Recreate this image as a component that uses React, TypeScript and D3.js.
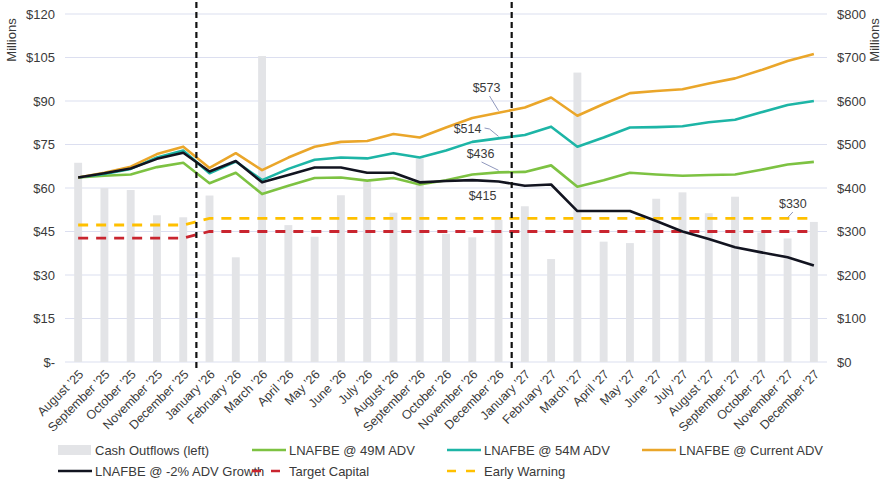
import React, { useRef, useEffect } from 'react';
import * as d3 from 'd3';

const months = [
  'August ’25', 'September ’25', 'October ’25', 'November ’25', 'December ’25',
  'January ’26', 'February ’26', 'March ’26', 'April ’26', 'May ’26', 'June ’26',
  'July ’26', 'August ’26', 'September ’26', 'October ’26', 'November ’26', 'December ’26',
  'January ’27', 'February ’27', 'March ’27', 'April ’27', 'May ’27', 'June ’27',
  'July ’27', 'August ’27', 'September ’27', 'October ’27', 'November ’27', 'December ’27',
];

// left axis, $M
const cashOutflows = [68.7, 60, 59.3, 50.6, 49.9, 57.4, 36.1, 105.5, 47.2, 43.2, 57.5, 62.2, 51.5, 70.2, 44.2, 43, 49, 53.7, 35.5, 99.8, 41.5, 41, 56.3, 58.5, 51.3, 57, 44.6, 42.6, 48.3];

// right axis, $M
const adv49M = [424, 428, 431, 448, 458, 411, 435, 386, 405, 423, 424, 417, 423, 408, 418, 431, 436, 437, 452, 403, 418, 435, 431, 428, 430, 431, 442, 454, 460];
const adv54M = [424, 432, 444, 470, 486, 434, 461, 418, 444, 465, 470, 468, 480, 470, 486, 506, 514, 522, 541, 495, 516, 539, 540, 542, 551, 557, 574, 591, 600];
const advCurrent = [424, 435, 449, 478, 495, 446, 480, 441, 470, 495, 506, 508, 524, 516, 539, 561, 573, 585, 608, 566, 593, 618, 623, 627, 640, 652, 671, 692, 708];
const advMinus2 = [424, 434, 445, 467, 481, 438, 462, 413, 430, 447, 447, 435, 435, 413, 416, 418, 415, 405, 408, 347, 347, 347, 324, 300, 283, 264, 252, 241, 222];
const targetCapital = [285, 285, 285, 285, 285, 300, 300, 300, 300, 300, 300, 300, 300, 300, 300, 300, 300, 300, 300, 300, 300, 300, 300, 300, 300, 300, 300, 300, 300];
const earlyWarning = [315, 315, 315, 315, 315, 330, 330, 330, 330, 330, 330, 330, 330, 330, 330, 330, 330, 330, 330, 330, 330, 330, 330, 330, 330, 330, 330, 330, 330];

const leftTicks = [0, 15, 30, 45, 60, 75, 90, 105, 120];
const rightTicks = [0, 100, 200, 300, 400, 500, 600, 700, 800];
const dividerAfter = ['December ’25', 'December ’26'];

export default function App() {
  const ref = useRef<SVGSVGElement>(null);

  useEffect(() => {
    if (!ref.current) return;
    const svg = d3.select(ref.current);
    svg.selectAll('*').remove();

    const font = '"Liberation Sans", Arial, sans-serif';
    const textCol = '#3a3a3a';
    const left = 65, right = 827, top = 14, bottom = 362;

    const x = d3.scaleBand().domain(months).range([left, right]).paddingInner(0.7).paddingOuter(0.35);
    const cx = (m: string) => (x(m) as number) + x.bandwidth() / 2;
    const yL = d3.scaleLinear().domain([0, 120]).range([bottom, top]);
    const yR = d3.scaleLinear().domain([0, 800]).range([bottom, top]);

    // grid
    svg.append('g').selectAll('line').data(leftTicks).join('line')
      .attr('x1', left).attr('x2', right)
      .attr('y1', d => yL(d)).attr('y2', d => yL(d))
      .attr('stroke', '#dcdff0').attr('stroke-width', 1.2);

    // left axis labels
    svg.append('g').selectAll('text').data(leftTicks).join('text')
      .attr('x', 55).attr('y', d => yL(d)).attr('dy', '0.35em')
      .attr('text-anchor', 'end').attr('font-family', font).attr('font-size', 13).attr('fill', textCol)
      .text(d => d === 0 ? '$-' : `$${d}`);

    // right axis labels
    svg.append('g').selectAll('text').data(rightTicks).join('text')
      .attr('x', 837).attr('y', d => yR(d)).attr('dy', '0.35em')
      .attr('text-anchor', 'start').attr('font-family', font).attr('font-size', 13).attr('fill', textCol)
      .text(d => `$${d}`);

    // axis titles
    svg.append('text').attr('transform', 'translate(16,40) rotate(-90)')
      .attr('text-anchor', 'middle').attr('font-family', font).attr('font-size', 13).attr('fill', textCol)
      .text('Millions');
    svg.append('text').attr('transform', 'translate(879,40) rotate(-90)')
      .attr('text-anchor', 'middle').attr('font-family', font).attr('font-size', 13).attr('fill', textCol)
      .text('Millions');

    // bars
    svg.append('g').selectAll('rect').data(cashOutflows).join('rect')
      .attr('x', (_, i) => x(months[i]) as number)
      .attr('width', x.bandwidth())
      .attr('y', d => yL(d))
      .attr('height', d => bottom - yL(d))
      .attr('fill', '#e3e4e7');

    // x labels
    svg.append('g').selectAll('text').data(months).join('text')
      .attr('transform', d => `translate(${cx(d) + 3},${bottom + 10}) rotate(-45)`)
      .attr('text-anchor', 'end').attr('dy', '0.35em')
      .attr('font-family', font).attr('font-size', 12.5).attr('fill', textCol)
      .text(d => d);

    const line = d3.line<number>().x((_, i) => cx(months[i])).y(d => yR(d));

    const dashed = [
      { data: targetCapital, color: '#c9252f' },
      { data: earlyWarning, color: '#ffc000' },
    ];
    dashed.forEach(s => {
      svg.append('path').datum(s.data).attr('d', line)
        .attr('fill', 'none').attr('stroke', s.color).attr('stroke-width', 2.8)
        .attr('stroke-dasharray', '10,8');
    });

    const solid = [
      { data: adv49M, color: '#7dc242' },
      { data: adv54M, color: '#1db5a6' },
      { data: advCurrent, color: '#eaa62a' },
      { data: advMinus2, color: '#121420' },
    ];
    solid.forEach(s => {
      svg.append('path').datum(s.data).attr('d', line)
        .attr('fill', 'none').attr('stroke', s.color).attr('stroke-width', 2.6)
        .attr('stroke-linejoin', 'round');
    });

    // period dividers
    dividerAfter.forEach(m => {
      const xv = cx(m) + x.step() / 2;
      svg.append('line').attr('x1', xv).attr('x2', xv).attr('y1', 2).attr('y2', bottom + 6)
        .attr('stroke', '#111').attr('stroke-width', 2.2).attr('stroke-dasharray', '6,4');
    });

    // annotations
    const dec26 = cx('December ’26');
    const lastX = cx('December ’27');
    const notes = [
      { t: '$573', tx: dec26 - 12, ty: 88, pts: [[dec26 - 9, 96], [dec26, yR(573) - 2]] },
      { t: '$514', tx: dec26 - 31, ty: 129, pts: [[dec26 - 14, 128], [dec26 - 9, 129], [dec26, yR(514) - 2]] },
      { t: '$436', tx: dec26 - 18, ty: 154, pts: [[dec26 - 17, 162], [dec26, yR(436) - 2]] },
      { t: '$415', tx: dec26 - 16, ty: 196, pts: [] as number[][] },
      { t: '$330', tx: lastX - 21, ty: 204, pts: [[lastX - 21, 212], [lastX - 26, yR(330) - 1]] },
    ];
    notes.forEach(n => {
      svg.append('text').attr('x', n.tx).attr('y', n.ty).attr('dy', '0.35em')
        .attr('text-anchor', 'middle').attr('font-family', font).attr('font-size', 12.5).attr('fill', textCol)
        .text(n.t);
      if (n.pts.length) {
        svg.append('path').attr('d', d3.line()(n.pts as [number, number][]))
          .attr('fill', 'none').attr('stroke', '#9098bd').attr('stroke-width', 1);
      }
    });

    // legend
    const legend = [
      { label: 'Cash Outflows (left)', kind: 'bar', color: '#e3e4e7', x: 58, y: 450 },
      { label: 'LNAFBE @ 49M ADV', kind: 'line', color: '#7dc242', x: 252, y: 450 },
      { label: 'LNAFBE @ 54M ADV', kind: 'line', color: '#1db5a6', x: 447, y: 450 },
      { label: 'LNAFBE @ Current ADV', kind: 'line', color: '#eaa62a', x: 642, y: 450 },
      { label: 'LNAFBE @ -2% ADV Growth', kind: 'line', color: '#121420', x: 58, y: 471 },
      { label: 'Target Capital', kind: 'dash', color: '#c9252f', x: 252, y: 471 },
      { label: 'Early Warning', kind: 'dash', color: '#ffc000', x: 447, y: 471 },
    ];
    const lg = svg.append('g');
    legend.forEach(l => {
      if (l.kind === 'bar') {
        lg.append('rect').attr('x', l.x).attr('y', l.y - 5).attr('width', 33).attr('height', 10).attr('fill', l.color);
      } else {
        lg.append('line').attr('x1', l.x).attr('x2', l.x + 34).attr('y1', l.y).attr('y2', l.y)
          .attr('stroke', l.color).attr('stroke-width', 2.6)
          .attr('stroke-dasharray', l.kind === 'dash' ? '9,10' : null);
      }
      lg.append('text').attr('x', l.x + 37).attr('y', l.y).attr('dy', '0.35em')
        .attr('font-family', font).attr('font-size', 13).attr('fill', textCol)
        .text(l.label);
    });
  }, []);

  return (
    <svg ref={ref} width={883} height={481}
      style={{ position: 'absolute', left: 0, top: 0, background: '#fff' }} />
  );
}
